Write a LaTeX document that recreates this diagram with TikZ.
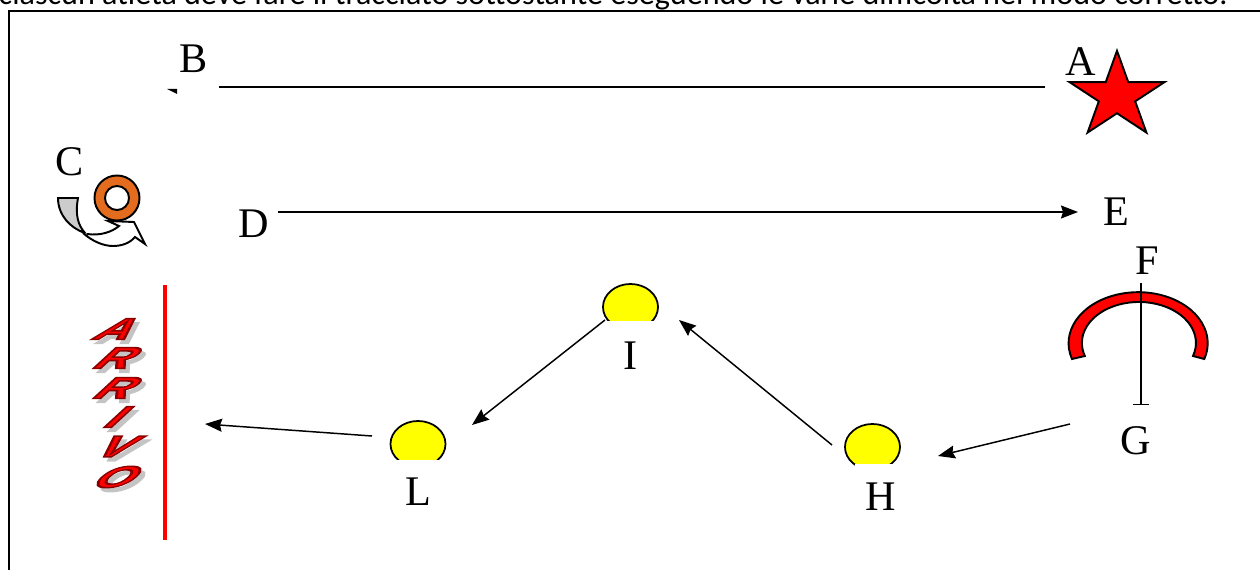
\documentclass[tikz,border=0pt]{standalone}
\usepackage{fontspec}
\usepackage{tikz}
\usetikzlibrary{arrows.meta,shapes.geometric}
\setmainfont{Liberation Serif}
\newfontfamily\notefont{Carlito}
\newfontfamily\artfont[FakeBold=5]{Liberation Sans Bold}
\definecolor{ballyellow}{HTML}{FFFF00}
\definecolor{ringorange}{HTML}{E36C1F}
\definecolor{artshadow}{HTML}{C4C4C4}
\definecolor{bandgray}{HTML}{CCCCCC}
\newcommand{\artedge}{\special{pdf:code 0.54 0 0 RG}}
\tikzset{
  tag/.style={inner sep=0pt, font=\fontsize{12}{14}\selectfont},
  tagbox/.style={tag, fill=white, minimum width=0.5cm},
  ball/.style={draw, fill=ballyellow, ellipse, inner sep=0pt, line width=0.5pt, minimum width=0.55cm, minimum height=0.46cm},
  conn/.style={line width=0.42pt, -{Stealth[length=0.17cm,width=0.13cm,inset=0.02cm]}},
  plain/.style={line width=0.42pt},
  outline/.style={draw, line width=0.55pt, line join=miter},
  artletter/.style={inner sep=0pt, font=\artfont\fontsize{8.6}{9}\selectfont, xscale=1.6, xslant=0.68, transform shape}
}
\begin{document}
\begin{tikzpicture}[x=0.01cm, y=-0.01cm]
  \useasboundingbox (0,0) rectangle (1260,570);
  \node[anchor=base west, inner sep=0pt, font=\notefont\fontsize{9.13}{12}\selectfont] (note) at (-2,5) {ciascun atleta deve fare il tracciato sottostante eseguendo le varie difficoltà nel modo corretto.};
  \draw[line width=0.6pt] (1260,11) -- (9,11) -- (9,570);

  \node[ball] (ballI) at (630.5,307) {};
  \node[ball] (ballL) at (418,444) {};
  \node[ball] (ballH) at (872.5,447) {};

  \node[tag] (nodeA) at (1081,62) {A};
  \node[tag] (nodeB) at (194,59) {B};
  \node[tag] (nodeC) at (70,162) {C};
  \node[tag] (nodeD) at (254,224) {D};
  \node[tag] (nodeE) at (1116,212) {E};
  \node[tag] (nodeF) at (1147,261) {F};
  \node[tag] (nodeG) at (1136,441) {G};
  \node[tagbox, minimum height=0.7cm] (nodeI) at (630.5,356) {I};
  \node[tagbox, minimum height=0.64cm] (nodeL) at (418,492) {L};
  \node[tagbox, minimum height=0.66cm] (nodeH) at (880.5,497) {H};

  \node[outline, fill=red, star, star points=5, star point ratio=2.618, inner sep=0pt, minimum size=1cm, yscale=0.903, transform shape] (star) at (1117,96) {};

  \draw[outline, fill=bandgray] (58,198) -- (78,198) .. controls (75,215) and (78,225) .. (85,233) .. controls (70,228) and (58,215) .. (58,198) -- cycle;
  \draw[outline, fill=white] (83,233) .. controls (92,241) and (103,246) .. (113,246) .. controls (122,246) and (130,243) .. (135,237) -- (145,244) -- (134,222) -- (108,221) -- (119,226) .. controls (112,232) and (100,236) .. (87,234);
  \node[outline, fill=ringorange, circle, inner sep=0pt, minimum size=0.45cm] (ring) at (117,198) {};
  \node[outline, fill=white, circle, inner sep=0pt, minimum size=0.24cm] (hole) at (117,198) {};

  \fill (167,89) -- (177,89) -- (177,94) -- cycle;
  \draw[plain] ([shift={(-36,25)}]nodeA.center) -- ([shift={(25,28)}]nodeB.center);
  \draw[conn] ([shift={(24,-12)}]nodeD.center) -- ([shift={(-38,0)}]nodeE.center);
  \draw[outline, fill=red] (1072,359) arc[start angle=198, end angle=-18, x radius=0.695cm, y radius=0.51cm] -- (1193,356) arc[start angle=-18.5, end angle=198.5, x radius=0.57cm, y radius=0.41cm] -- cycle;
  \draw[plain, -{Bar[width=0.16cm,line width=0.2pt]}] ([shift={(-6,22)}]nodeF.center) -- ([shift={(5,-36)}]nodeG.center);
  \draw[conn] ([shift={(-66,-17)}]nodeG.center) -- ([shift={(65.5,9)}]ballH.center);
  \draw[conn] ([shift={(-40.5,-2)}]ballH.center) -- ([shift={(48.5,13)}]ballI.center);
  \draw[conn] ([shift={(-25.5,13)}]ballI.center) -- ([shift={(54,-19)}]ballL.center);

  \coordinate (finish) at (165,412);
  \draw[red, line width=1.15pt] (165,285) -- (165,540);
  \draw[conn] ([shift={(-46,-8)}]ballL.center) -- ([shift={(40,12)}]finish);

  \foreach \ch/\ypos in {A/329, R/358, R/388, I/417, V/446.5, O/477} {
    \node[artletter, text=artshadow] at (123,\ypos+4) {\ch};
    \node[artletter, text=red] at (119,\ypos) {\artedge\ch};
  }
\end{tikzpicture}
\end{document}
